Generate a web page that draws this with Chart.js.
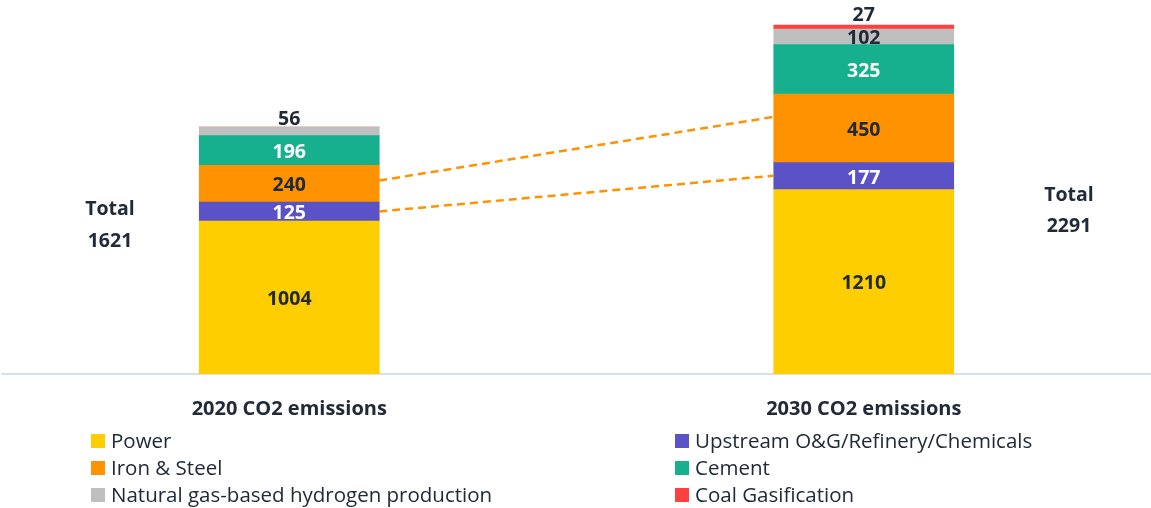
<!DOCTYPE html>
<html><head><meta charset="utf-8">
<script src="https://cdn.jsdelivr.net/npm/chart.js@4.4.1/dist/chart.umd.min.js"></script>
<style>html,body{margin:0;padding:0;background:#fff}#wrap{width:1151px;height:508px}</style>
</head><body><div id="wrap"><canvas id="c" width="1151" height="508"></canvas></div>
<script>
const categories = ["2020 CO2 emissions", "2030 CO2 emissions"];
const seriesNames = ["Power", "Upstream O&G/Refinery/Chemicals", "Iron & Steel", "Cement", "Natural gas-based hydrogen production", "Coal Gasification"];
const power = [1004, 1210];
const upstream = [125, 177];
const ironSteel = [240, 450];
const cement = [196, 325];
const natGasH2 = [56, 102];
const coalGas = [0, 27];
const colors = ["#FFCE00", "#5B52C8", "#FF9200", "#17B08E", "#BFBFBF", "#FF4040"];
const labelWhite = [false, true, false, true, false, false];
// connector lines (value at right edge of 2020 bar -> value at left edge of 2030 bar)
const connFrom = [1270, 1067];
const connTo = [1688, 1302];
const legendOrder = [0, 2, 4, 1, 3, 5];
const TXT = "#212B38";
const FONT = "'Open Sans', 'Noto Sans', sans-serif";

const seriesData = [power, upstream, ironSteel, cement, natGasH2, coalGas];
const totals = categories.map((_, i) => seriesData.reduce((s, a) => s + a[i], 0));

const overlay = {
  id: 'overlay',
  afterDatasetsDraw(chart) {
    const ctx = chart.ctx, y = chart.scales.y;
    ctx.save();
    const m0 = chart.getDatasetMeta(0);
    const b0 = m0.data[0], b1 = m0.data[1];
    ctx.strokeStyle = "#FF9200"; ctx.lineWidth = 2.5; ctx.setLineDash([8, 5]);
    for (let k = 0; k < connFrom.length; k++) {
      ctx.beginPath();
      ctx.moveTo(b0.x + b0.width / 2, y.getPixelForValue(connFrom[k]));
      ctx.lineTo(b1.x - b1.width / 2, y.getPixelForValue(connTo[k]));
      ctx.stroke();
    }
    ctx.setLineDash([]);
    ctx.font = "bold 19.5px " + FONT; ctx.textAlign = "center"; ctx.textBaseline = "middle";
    chart.data.datasets.forEach((ds, di) => {
      const meta = chart.getDatasetMeta(di);
      meta.data.forEach((el, i) => {
        const v = ds.data[i]; if (!v) return;
        const h = Math.abs(el.base - el.y);
        let ty = (el.y + el.base) / 2 + 2, col = labelWhite[di] ? "#fff" : TXT;
        if (h < 12) { ty = (el.y + el.base) / 2 - 11.5; col = TXT; }
        ctx.fillStyle = col; ctx.fillText(String(v), el.x, ty);
      });
    });
    ctx.fillStyle = TXT; ctx.font = "bold 19.5px " + FONT;
    ctx.fillText("Total", 110, 209); ctx.fillText(String(totals[0]), 110, 241);
    ctx.fillText("Total", 1069, 195); ctx.fillText(String(totals[1]), 1069, 226);
    ctx.font = "20.5px " + FONT; ctx.textAlign = "left";
    legendOrder.forEach((si, k) => {
      const col = Math.floor(k / 3), row = k % 3;
      const bx = col === 0 ? 91 : 675, cy = 441 + row * 27;
      ctx.fillStyle = colors[si]; ctx.fillRect(bx, cy - 7, 14, 14);
      ctx.fillStyle = TXT; ctx.fillText(seriesNames[si], bx + 20, cy + 1.5);
    });
    ctx.restore();
  }
};

new Chart(document.getElementById('c'), {
  type: 'bar',
  data: {
    labels: categories,
    datasets: seriesNames.map((n, i) => ({
      label: n, data: seriesData[i], backgroundColor: colors[i],
      borderWidth: 0, barThickness: 180, stack: 's'
    }))
  },
  options: {
    responsive: false, animation: false, devicePixelRatio: 1,
    layout: { padding: { left: 2, right: 0, top: 0, bottom: 0 } },
    plugins: { legend: { display: false }, tooltip: { enabled: false } },
    scales: {
      x: {
        stacked: true,
        grid: { display: false, drawTicks: false },
        border: { display: true, color: "#D9E1E8", width: 2 },
        ticks: { color: TXT, font: { family: FONT, size: 20, weight: 'bold' }, padding: 23 },
        afterFit: s => { s.height = 134; }
      },
      y: { stacked: true, display: false, min: 0, max: 2455 }
    }
  },
  plugins: [overlay]
});
</script></body></html>
